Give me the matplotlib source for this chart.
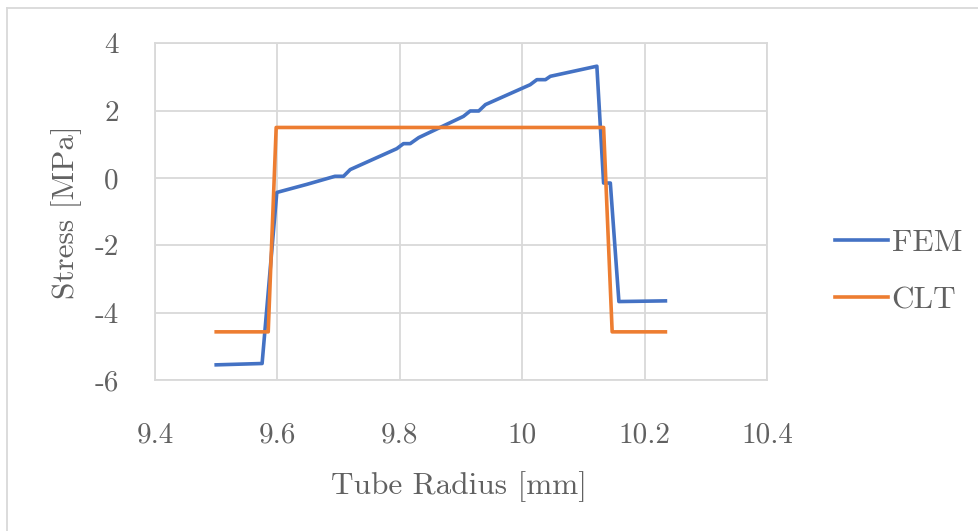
import matplotlib
matplotlib.use("Agg")
import matplotlib.pyplot as plt
from matplotlib.lines import Line2D

# данные
fem_r = [9.5, 9.575, 9.599, 9.648, 9.694, 9.708, 9.719, 9.795, 9.806, 9.817, 9.831,
         9.904, 9.915, 9.929, 9.94, 10.013, 10.024, 10.038, 10.046, 10.122, 10.133,
         10.144, 10.158, 10.234]
fem_s = [-5.55, -5.51, -0.43, -0.19, 0.05, 0.05, 0.25, 0.87, 1.02, 1.02, 1.2,
         1.83, 1.99, 1.99, 2.18, 2.77, 2.92, 2.92, 3.02, 3.32, -0.15,
         -0.15, -3.67, -3.65]

clt_r = [9.5, 9.585, 9.598, 10.133, 10.147, 10.234]
clt_s = [-4.57, -4.57, 1.5, 1.5, -4.57, -4.57]

xticks = [9.4, 9.6, 9.8, 10.0, 10.2, 10.4]
xlabels = ["9.4", "9.6", "9.8", "10", "10.2", "10.4"]
yticks = [-6, -4, -2, 0, 2, 4]
ylabels = ["-6", "-4", "-2", "0", "2", "4"]

plt.rcParams['font.family'] = 'cmr10'
plt.rcParams['mathtext.fontset'] = 'cm'
plt.rcParams['axes.formatter.use_mathtext'] = True

grey_txt = '#616161'
grid_c = '#d9d9d9'
W, H = 979, 531

fig = plt.figure(figsize=(W / 100, H / 100), dpi=100)
ax = fig.add_axes([155 / W, 1 - 380 / H, 612 / W, 336.7 / H])

ax.plot(fem_r, fem_s, color='#4472C4', lw=2.6, solid_joinstyle='round', label='FEM', zorder=3)
ax.plot(clt_r, clt_s, color='#ED7D31', lw=2.6, solid_joinstyle='round', label='CLT', zorder=3)

ax.set_xlim(9.4, 10.4)
ax.set_ylim(-6, 4)
ax.set_xticks(xticks)
ax.set_xticklabels(xlabels)
ax.set_yticks(yticks)
ax.set_yticklabels(ylabels)
ax.tick_params(length=0, labelsize=21, labelcolor=grey_txt)
ax.tick_params(axis='y', pad=26)
ax.tick_params(axis='x', pad=30)
ax.grid(True, color=grid_c, lw=1.3)
for sp in ax.spines.values():
    sp.set_color(grid_c)
    sp.set_linewidth(1.3)
ax.set_axisbelow(True)

fig.text(67 / W, 1 - 212 / H, "Stress [MPa]", rotation=90, ha='center', va='center',
         fontsize=22.5, color=grey_txt)
fig.text(459 / W, 1 - 487 / H, "Tube Radius [mm]", ha='center', va='center',
         fontsize=22.5, color=grey_txt)

fig.legend(loc='center left', bbox_to_anchor=(835 / W, 1 - 271.7 / H), frameon=False,
           fontsize=22.5, handlelength=1.69, handletextpad=0.12, labelspacing=0.92,
           borderpad=0, borderaxespad=0, labelcolor=grey_txt)

# рамка области диаграммы (видны только верх и левый край)
fig.add_artist(Line2D([7.5 / W, 7.5 / W], [0, 1 - 7.5 / H], color=grid_c, lw=1.3))
fig.add_artist(Line2D([7.5 / W, 1], [1 - 7.5 / H, 1 - 7.5 / H], color=grid_c, lw=1.3))

fig.savefig("out.png", dpi=100)
